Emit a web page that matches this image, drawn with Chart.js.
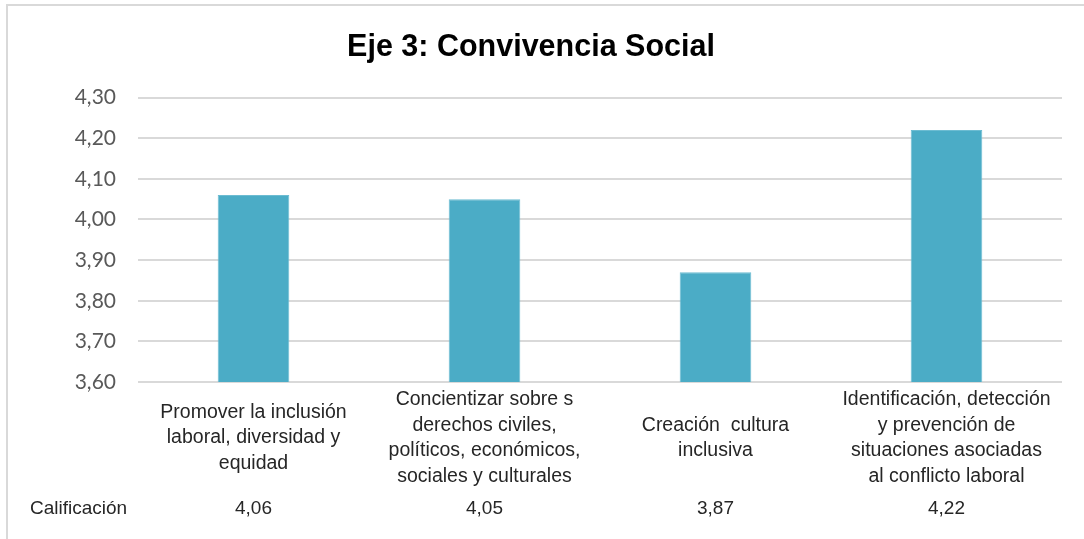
<!DOCTYPE html>
<html lang="es">
<head>
<meta charset="utf-8">
<title>Eje 3: Convivencia Social</title>
<script src="https://cdn.jsdelivr.net/npm/chart.js@4.4.1/dist/chart.umd.min.js"></script>
<style>
  html, body { margin: 0; padding: 0; background: #ffffff; overflow: hidden; }
  body { width: 1084px; height: 539px; position: relative; }
  #frame {
    position: absolute; left: 6px; top: 4px; width: 1100px; height: 580px;
    border: 2px solid #d9d9d9; box-sizing: border-box;
  }
  #wrap { position: absolute; left: 0; top: 0; width: 1078px; height: 539px; }
</style>
</head>
<body>
<div id="frame"></div>
<div id="wrap"><canvas id="chart"></canvas></div>
<script>
// Chart title and category labels (each label split into its display lines)
const chartTitle = 'Eje 3: Convivencia Social';
const categories = [
  ['Promover la inclusión', 'laboral, diversidad y', 'equidad'],
  ['Concientizar sobre s', 'derechos civiles,', 'políticos, económicos,', 'sociales y culturales'],
  ['Creación  cultura', 'inclusiva'],
  ['Identificación, detección', 'y prevención de', 'situaciones asociadas', 'al conflicto laboral']
];
// Series: average rating per item
const seriesName = 'Calificación';
const calificacion = [4.06, 4.05, 3.87, 4.22];
// Value axis range
const yMin = 3.60;
const yMax = 4.30;
const yStep = 0.10;

const fmt = v => Number(v).toFixed(2).replace('.', ',');
const textFont = '"Liberation Sans", Arial, sans-serif';

// Category labels (vertically centred as a block) and the data table row
const categoryTable = {
  id: 'categoryTable',
  afterDraw(chart) {
    const ctx = chart.ctx;
    const x = chart.scales.x;
    const top = chart.chartArea.bottom;
    const lineH = 25.5;
    const labelMid = top + 56;
    ctx.save();
    ctx.fillStyle = '#262626';
    ctx.textAlign = 'center';
    ctx.textBaseline = 'middle';
    ctx.font = '19.5px ' + textFont;
    categories.forEach((lines, i) => {
      const cx = x.getPixelForValue(i);
      lines.forEach((line, j) => {
        ctx.fillText(line, cx, labelMid + (j - (lines.length - 1) / 2) * lineH);
      });
    });
    ctx.font = '19px ' + textFont;
    ctx.textBaseline = 'alphabetic';
    ctx.textAlign = 'left';
    ctx.fillText(seriesName, 30, 514);
    ctx.textAlign = 'center';
    calificacion.forEach((v, i) => {
      ctx.fillText(fmt(v), x.getPixelForValue(i), 514);
    });
    ctx.restore();
  }
};

new Chart(document.getElementById('chart'), {
  type: 'bar',
  data: {
    labels: categories,
    datasets: [{
      label: seriesName,
      data: calificacion,
      backgroundColor: '#4bacc6',
      borderColor: '#6cbcd2',
      borderWidth: 1,
      categoryPercentage: 1.0,
      barPercentage: 0.31
    }]
  },
  options: {
    responsive: true,
    maintainAspectRatio: false,
    animation: false,
    layout: { padding: { top: 0, right: 16, bottom: 157, left: 0 } },
    plugins: {
      legend: { display: false },
      tooltip: { enabled: false },
      title: {
        display: true,
        text: chartTitle,
        color: '#000000',
        font: { family: textFont, size: 30.5, weight: 'bold' },
        padding: { top: 29, bottom: 32 }
      }
    },
    scales: {
      x: {
        grid: { display: false, drawTicks: false },
        border: { display: false },
        ticks: { display: false }
      },
      y: {
        min: yMin,
        max: yMax,
        afterFit(scale) { scale.width = 138; },
        grid: { color: '#d9d9d9', lineWidth: 2, drawTicks: false },
        border: { display: false },
        ticks: {
          stepSize: yStep,
          color: '#595959',
          padding: 22,
          font: { family: 'Lato, "Open Sans", sans-serif', size: 21 },
          callback: v => fmt(v)
        }
      }
    }
  },
  plugins: [categoryTable]
});
</script>
</body>
</html>
